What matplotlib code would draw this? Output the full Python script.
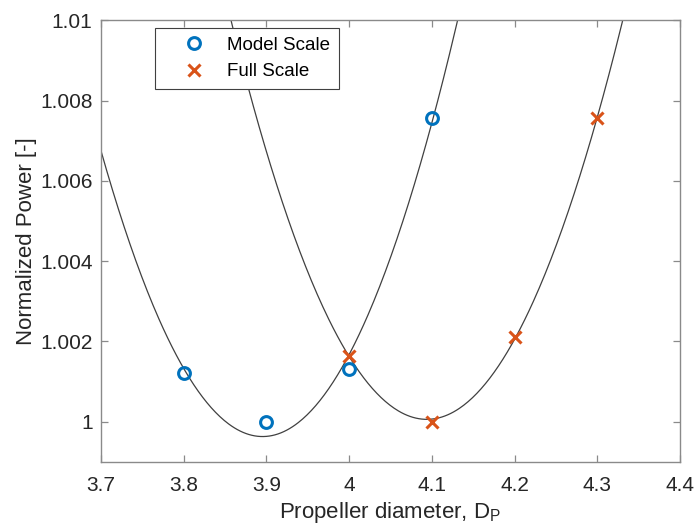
import numpy as np
import matplotlib
matplotlib.use("Agg")
import matplotlib.pyplot as plt

plt.rcParams['font.family'] = ['Liberation Sans', 'DejaVu Sans']
plt.rcParams['mathtext.fontset'] = 'custom'
plt.rcParams['mathtext.rm'] = 'Liberation Sans'

model_d = [3.8, 3.9, 4.0, 4.1]
model_p = [1.00121, 1.00000, 1.00131, 1.00756]
full_d = [4.0, 4.1, 4.2, 4.3]
full_p = [1.00165, 1.00000, 1.00212, 1.00756]

fig = plt.figure(figsize=(6.96, 5.31), dpi=100)
ax = fig.add_axes([0.145, 0.130, 0.832, 0.832])

# quadratic fits through each set
xs = np.linspace(3.7, 4.4, 400)
for d, p in [(model_d, model_p), (full_d, full_p)]:
    c = np.polyfit(d, p, 2)
    ax.plot(xs, np.polyval(c, xs), color='#404040', lw=0.9)

ax.plot(model_d, model_p, 'o', mfc='none', mec='#0072BD', mew=2.2, ms=8.5, label='Model Scale')
ax.plot(full_d, full_p, 'x', color='#D95319', mew=2.2, ms=8, label='Full Scale')

ax.set_xlim(3.7, 4.4)
ax.set_ylim(0.999, 1.01)
ax.set_xticks([3.7, 3.8, 3.9, 4.0, 4.1, 4.2, 4.3, 4.4])
ax.set_xticklabels(['3.7', '3.8', '3.9', '4', '4.1', '4.2', '4.3', '4.4'])
ax.set_yticks([1.0, 1.002, 1.004, 1.006, 1.008, 1.01])
ax.set_yticklabels(['1', '1.002', '1.004', '1.006', '1.008', '1.01'])
ax.tick_params(direction='in', top=True, right=True, labelsize=15, color='#8a8a8a',
               labelcolor='#262626', length=5, width=0.9, pad=6)
ax.tick_params(axis='x', pad=10)
for s in ax.spines.values():
    s.set_color('#8a8a8a')
    s.set_linewidth(1.0)

ax.set_xlabel('Propeller diameter, D$_\\mathrm{P}$', fontsize=16, color='#262626')
ax.set_ylabel('Normalized Power [-]', fontsize=16, color='#262626', labelpad=2)

leg = ax.legend(loc='upper left', bbox_to_anchor=(0.0933, 0.982), fontsize=13.5,
                fancybox=False, edgecolor='#404040', framealpha=1,
                borderpad=0.45, handletextpad=0.1, labelspacing=0.5,
                handlelength=3.3, borderaxespad=0)
leg.get_frame().set_linewidth(0.8)

fig.savefig('out.png', dpi=100)
